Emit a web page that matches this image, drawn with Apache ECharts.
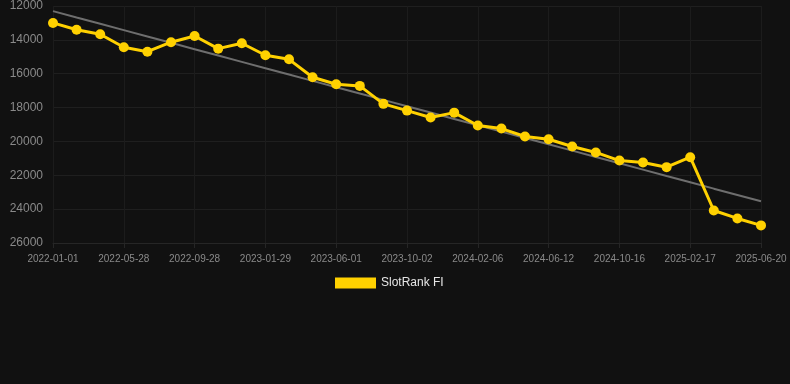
<!DOCTYPE html>
<html>
<head>
<meta charset="utf-8">
<script src="https://cdn.jsdelivr.net/npm/echarts@6/dist/echarts.min.js"></script>
<style>
  html, body { margin: 0; padding: 0; background: #111111; }
  #chart { width: 790px; height: 384px; }
</style>
</head>
<body>
<div id="chart"></div>
<script>
const dates = [
  '2022-01-01', '2022-02-19', '2022-04-09', '2022-05-28', '2022-07-09', '2022-08-19',
  '2022-09-28', '2022-11-08', '2022-12-19', '2023-01-29', '2023-03-11', '2023-04-21',
  '2023-06-01', '2023-07-12', '2023-08-22', '2023-10-02', '2023-11-13', '2023-12-25',
  '2024-02-06', '2024-03-18', '2024-04-30', '2024-06-12', '2024-07-24', '2024-09-04',
  '2024-10-16', '2024-11-27', '2025-01-07', '2025-02-17', '2025-03-30', '2025-05-10',
  '2025-06-20'
];
const rankFI = [
  13000, 13400, 13670, 14440, 14700, 14140, 13770, 14520, 14200, 14910, 15150,
  16210, 16620, 16720, 17780, 18180, 18590, 18300, 19060, 19240, 19710, 19870,
  20300, 20650, 21130, 21250, 21520, 20930, 24080, 24550, 24960
];
const yTicks = [12000, 14000, 16000, 18000, 20000, 22000, 24000, 26000];

// least squares trend over the rank values
function trendOf(vals) {
  const n = vals.length;
  let sx = 0, sy = 0, sxy = 0, sxx = 0;
  vals.forEach((v, i) => { sx += i; sy += v; sxy += i * v; sxx += i * i; });
  const slope = (n * sxy - sx * sy) / (n * sxx - sx * sx);
  const icpt = (sy - slope * sx) / n;
  return vals.map((v, i) => Math.round(icpt + slope * i));
}
const trend = trendOf(rankFI);

const chart = echarts.init(document.getElementById('chart'));
chart.setOption({
  backgroundColor: '#111111',
  animation: false,
  textStyle: { fontFamily: 'Liberation Sans, Arial, sans-serif' },
  grid: { left: 53, right: 29, top: 6, bottom: 141, containLabel: false },
  legend: {
    top: 272,
    left: 330,
    itemWidth: 41,
    itemHeight: 11,
    itemGap: 10,
    data: [{ name: 'SlotRank FI', icon: 'rect' }],
    textStyle: { color: '#e6e6e6', fontSize: 12 }
  },
  xAxis: {
    type: 'category',
    boundaryGap: false,
    data: dates,
    axisLine: { show: true, lineStyle: { color: '#262626' } },
    axisTick: { show: true, interval: 2, length: 5, lineStyle: { color: '#262626' } },
    axisLabel: { interval: 2, color: '#8a8a8a', fontSize: 10, margin: 11 },
    splitLine: { show: true, interval: 2, lineStyle: { color: '#1c1c1c' } }
  },
  yAxis: {
    type: 'value',
    inverse: true,
    min: yTicks[0],
    max: yTicks[yTicks.length - 1],
    interval: 2000,
    axisLine: { show: false },
    axisTick: { show: false },
    axisLabel: { color: '#8a8a8a', fontSize: 12, margin: 10, formatter: v => String(v) },
    splitLine: { show: true, lineStyle: { color: '#1f1f1f' } }
  },
  series: [
    {
      name: 'Trend',
      type: 'line',
      data: trend,
      showSymbol: false,
      symbol: 'none',
      lineStyle: { color: '#6e6e6e', width: 2 },
      z: 1,
      silent: true
    },
    {
      name: 'SlotRank FI',
      type: 'line',
      data: rankFI,
      symbol: 'circle',
      symbolSize: 10,
      itemStyle: { color: '#FFD100' },
      lineStyle: { color: '#FFD100', width: 3 },
      z: 2
    }
  ]
});
</script>
</body>
</html>
